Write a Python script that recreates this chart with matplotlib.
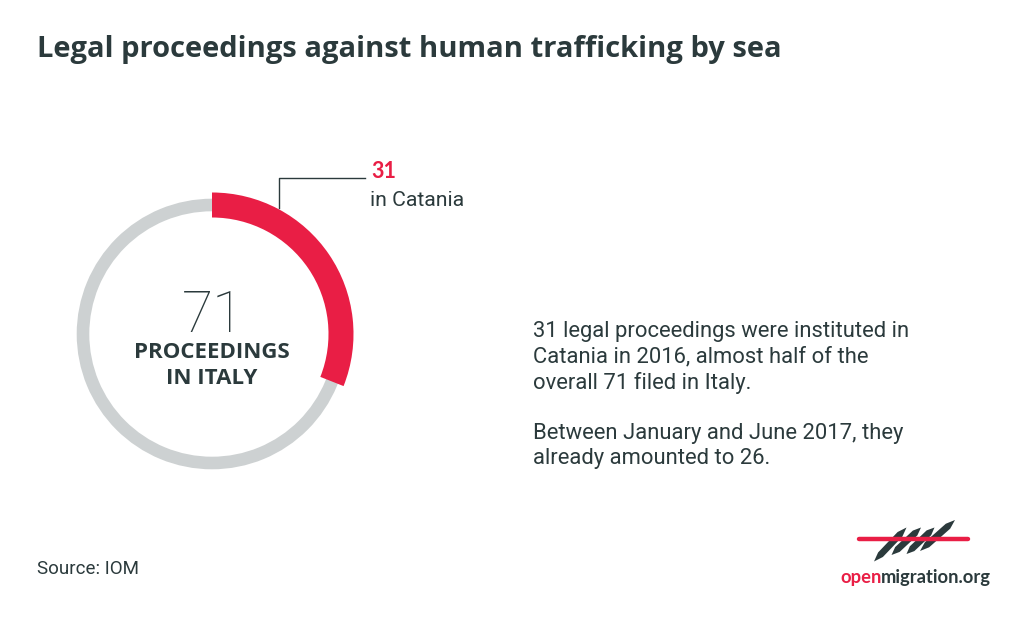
import matplotlib
matplotlib.use("Agg")
import matplotlib.pyplot as plt
from matplotlib.patches import Wedge, Polygon
from matplotlib.lines import Line2D

# ---- data ----
title = "Legal proceedings against human trafficking by sea"
total_italy = 71
catania = 31
arc_scale = 100  # the arc in the original is drawn as 31 out of 100
center_label = ["PROCEEDINGS", "IN ITALY"]
callout_label = "in Catania"
notes = ["31 legal proceedings were instituted in",
         "Catania in 2016, almost half of the",
         "overall 71 filed in Italy.",
         "",
         "Between January and June 2017, they",
         "already amounted to 26."]
source = "Source: IOM"

RED = "#E91E45"
GREY = "#CDD1D2"
DARK = "#2B3A3C"

fig = plt.figure(figsize=(10.24, 6.21), dpi=100)
ax = fig.add_axes([0, 0, 1, 1])
ax.set_xlim(0, 1024)
ax.set_ylim(621, 0)
ax.axis("off")

cx, cy = 212, 334
ax.add_patch(Wedge((cx, cy), 135.3, 0, 360, width=12.6, facecolor=GREY, edgecolor="none"))
sweep = catania / arc_scale * 360
ax.add_patch(Wedge((cx, cy), 141.5, -90, -90 + sweep, width=25, facecolor=RED, edgecolor="none"))

# callout
ax.add_line(Line2D([278.5, 278.5, 365], [208, 177.5, 177.5], color=DARK, lw=1.0))
ax.text(371, 171, str(catania), color=RED, fontsize=15.5, fontweight="bold",
        family="Lato", va="center", ha="left")
ax.text(370, 201, callout_label, color=DARK, fontsize=15.3, family="Roboto",
        va="center", ha="left")

# center
ax.text(cx + 1, 316, str(total_italy), color=DARK, fontsize=41, fontweight="light",
        family="Roboto", va="center", ha="center")
ax.text(cx, 353, center_label[0], color=DARK, fontsize=16, fontweight="bold",
        family="Open Sans", va="center", ha="center")
ax.text(cx, 378, center_label[1], color=DARK, fontsize=16, fontweight="bold",
        family="Open Sans", va="center", ha="center")

# title
ax.text(37, 49, title, color=DARK, fontsize=21, fontweight="bold", family="Open Sans",
        va="center", ha="left")

# notes
y = 332
for line in notes:
    if line:
        ax.text(533, y, line, color=DARK, fontsize=15.8, family="Roboto",
                va="center", ha="left")
    y += 25.4

ax.text(37, 569, source, color=DARK, fontsize=13.5, family="Roboto", va="center", ha="left")

# logo
ax.add_line(Line2D([859, 968], [539.3, 539.3], color=RED, lw=3.2, solid_capstyle="round"))
strokes = [((874, 561.5), (906.5, 527.5)), ((891.5, 555), (921, 527.5)),
           ((906.5, 554), (934.5, 527.5)), ((920, 551), (955, 520))]
for (xb, yb), (xt, yt) in strokes:
    dx, dy = xt - xb, yt - yb
    L = (dx * dx + dy * dy) ** 0.5
    nx, ny = -dy / L * 3.3, dx / L * 3.3
    pts = [[xb, yb]]
    for f in [0.2, 0.8]:
        pts.append([xb + dx * f + nx, yb + dy * f + ny])
    pts.append([xt, yt])
    for f in [0.8, 0.2]:
        pts.append([xb + dx * f - nx, yb + dy * f - ny])
    ax.add_patch(Polygon(pts, closed=True, facecolor=DARK, edgecolor="none"))
ax.text(840, 578, "open", color=RED, fontsize=13.2, fontweight="bold", family="Lato",
        va="center", ha="left")
t = ax.text(840, 578, "open", color="none", fontsize=13.2, fontweight="bold", family="Lato",
            va="center", ha="left")
fig.canvas.draw()
bb = t.get_window_extent().transformed(ax.transData.inverted())
ax.text(bb.x1, 578, "migration.org", color=DARK, fontsize=13.2, fontweight="bold", family="Lato",
        va="center", ha="left")

fig.savefig("out.png", dpi=100, facecolor="white")
